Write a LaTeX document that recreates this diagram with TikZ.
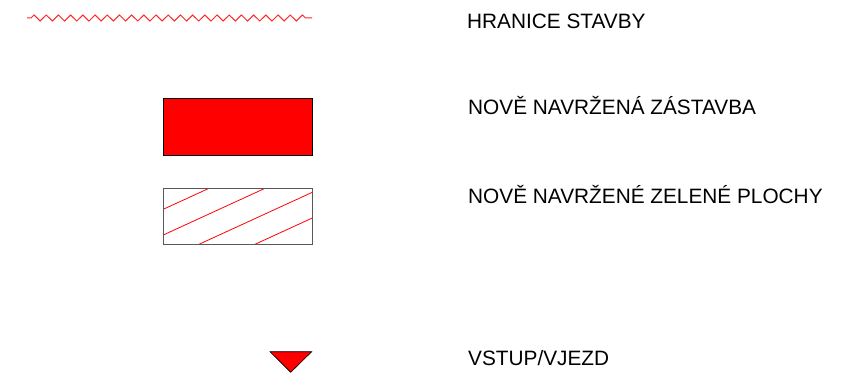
\documentclass[tikz,border=0pt]{standalone}
\usepackage{fontspec}
\setmainfont{Liberation Sans}
\usepackage{tikz}
\usetikzlibrary{decorations.pathmorphing}
\tikzset{
  legendtext/.style={anchor=base west, inner sep=0pt, font=\fontsize{20.8}{25}\selectfont},
  buildingbox/.style={draw=black, fill=red, line width=0.9pt},
  greenbox/.style={draw=black!65, line width=0.9pt},
  hatchline/.style={red, line width=0.8pt}
}

\begin{document}
\begin{tikzpicture}[x=1pt, y=-1pt]
            \useasboundingbox (0,0) rectangle (859,374);
            % Site boundary
            \coordinate (zzL) at (27,18);
            \coordinate (zzR) at (312,18);
            \draw[red!85, line width=1pt, decorate,
                  decoration={zigzag, segment length=12.2pt, amplitude=3pt, pre length=4pt, post length=4pt}]
                  (zzL) -- (zzR);
            \node[legendtext] (boundary) at (467,28.3) {HRANICE STAVBY};
            % New buildings
            \draw[buildingbox] (163,98) rectangle (312,155);
            \node[legendtext] (building) at (468,115) {NOVĚ NAVRŽENÁ ZÁSTAVBA};
            % New green areas
            \begin{scope}
                \clip (163,188.3) rectangle (312.3,244.3);
                \foreach \xt in {209,265,321,377}
                    \draw[hatchline] (\xt,188.3) -- ++(-122,56);
            \end{scope}
            \draw[greenbox] (163,188.3) rectangle (312.3,244.3);
            \node[legendtext] (green) at (468,204) {NOVĚ NAVRŽENÉ ZELENÉ PLOCHY};
            % Entrance
            \draw[fill=red, draw=black, line width=0.6pt] (270,351.7) -- (311.7,351.7) -- (290.7,372.3) -- cycle;
            \node[legendtext] (entrance) at (468,365.7) {VSTUP/VJEZD};
        \end{tikzpicture}
\end{document}
